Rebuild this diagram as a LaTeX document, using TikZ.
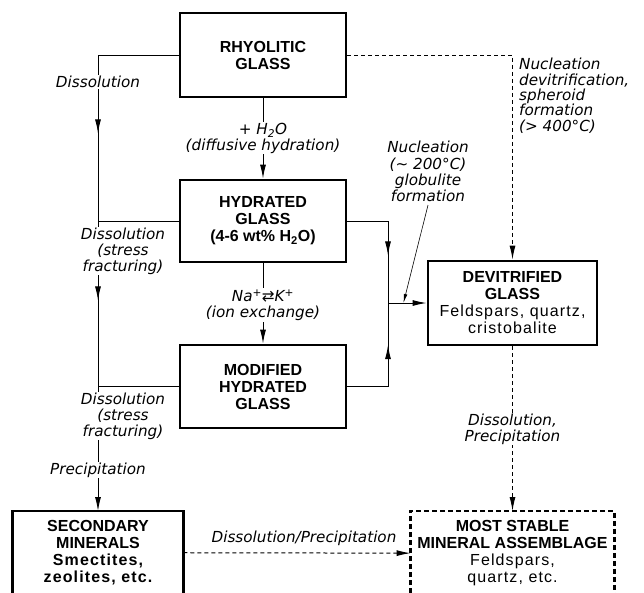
\documentclass[tikz,border=0pt]{standalone}
\usepackage{fontspec}
\setmainfont{Liberation Sans}
\newfontfamily\lblfont{DejaVu Sans}
\newfontfamily\minfont[LetterSpace=7]{Liberation Sans}
\usetikzlibrary{arrows.meta,decorations.markings,calc}

\tikzset{
  box/.style={draw, line width=2.8pt, align=center,
    font=\fontsize{16}{17}\selectfont\bfseries,
    minimum width=166pt, inner sep=2pt},
  lbl/.style={font=\fontsize{15.2}{16}\selectfont\lblfont\itshape,
    align=center, inner sep=1pt},
  conn/.style={line width=1pt},
  tip/.style={-{Latex[length=14pt,width=6pt]}},
  smalltip/.style={line width=0.6pt, -{Latex[length=9pt,width=3.5pt]}},
  dashline/.style={line width=1pt, dash pattern=on 4pt off 3pt},
  midtip/.style={postaction={decorate, decoration={markings,
    mark=at position #1 with {\arrow{Latex[length=14pt,width=6pt]}}}}},
}

\begin{document}
\begin{tikzpicture}[x=1pt,y=-1pt]
\useasboundingbox (0,0) rectangle (644,592);
\clip (0,0) rectangle (644,592);

% glass stages
\node[box, minimum height=84pt] (rg) at (263,55) {RHYOLITIC\\GLASS};
\node[box, minimum height=82pt] (hg) at (263,221)
  {HYDRATED\\GLASS\\(4-6 wt\% H\textsubscript{2}O)};
\node[box, minimum height=83pt] (mg) at (263,386.5)
  {MODIFIED\\HYDRATED\\GLASS};
\node[box, minimum width=169pt, minimum height=84pt] (dg) at (512.5,303)
  {DEVITRIFIED\\GLASS\\\minfont\mdseries Feldspars, quartz,\\\minfont\mdseries cristobalite};

% end products (boxes run off the lower edge)
\node[box, draw=none, anchor=north, minimum width=168pt, inner ysep=8pt] (sm) at (98,511)
  {SECONDARY\\MINERALS\\\minfont\bfseries Smectites,\\\minfont\bfseries zeolites, etc.};
\draw[line width=2.8pt] ([yshift=-30pt]sm.south west) rectangle (sm.north east);
\node[box, draw=none, anchor=north, minimum width=201pt, inner ysep=8pt, inner xsep=1pt] (ms) at (512.5,511)
  {MOST STABLE\\MINERAL ASSEMBLAGE\\\minfont\mdseries Feldspars,\\\minfont\mdseries quartz, etc.};
\draw[line width=2.8pt, dash pattern=on 5pt off 3pt]
  ([yshift=-30pt]ms.south west) rectangle (ms.north east);

% dissolution path on the left
\draw[conn, tip, midtip=159pt, midtip=326pt] (rg.west) -| (sm.north);
\draw[conn] (hg.west) -- (hg.west -| sm.north);
\draw[conn] (mg.west) -- (mg.west -| sm.north);
\node[lbl, fill=white] (l1) at (98,82) {Dissolution};
\node[lbl, fill=white] (l2) at (123,251) {Dissolution\\(stress\\fracturing)};
\node[lbl, fill=white] (l3) at (123,416) {Dissolution\\(stress\\fracturing)};
\node[lbl, fill=white] (l4) at (98,470) {Precipitation};

% hydration sequence
\draw[conn, tip] (rg) -- (hg);
\draw[conn, tip] (hg) -- (mg);
\node[lbl, fill=white] (l5) at (263,138) {+ H\textsubscript{2}O\\(diffusive hydration)};
\node[lbl, fill=white] (l6) at (263,305) {Na\textsuperscript{+}⇄K\textsuperscript{+}\\(ion exchange)};

% low temperature nucleation
\coordinate (jn) at (388,303);
\draw[conn, midtip=75pt] (hg.east) -| (jn);
\draw[conn, midtip=82pt] (mg.east) -| (jn);
\draw[conn, tip] (jn) -- (dg.west);
\node[lbl, font=\fontsize{15.2}{16.3}\selectfont\lblfont\itshape] (l7) at (428,171.5)
  {Nucleation\\(\textasciitilde\ 200°C)\\globulite\\formation};
\draw[smalltip] ([yshift=-2pt]l7.south) -- ($(jn)!0.4!(dg.west)$);

% high temperature devitrification
\draw[dashline, tip] (rg.east) -| (dg.north);
\node[lbl, font=\fontsize{15.2}{15.4}\selectfont\lblfont\itshape, align=left,
  anchor=north west, inner sep=0pt] (l8) at (519,58)
  {Nucleation\\devitrification,\\spheroid\\formation\\(> 400°C)};

% towards the stable assemblage
\draw[dashline, tip] (dg) -- (ms);
\node[lbl, fill=white] (l9) at (512.5,429) {Dissolution,\\Precipitation};
\draw[dashline, tip] (sm.east) -- (ms.west);
\node[lbl] (l10) at (304,538) {Dissolution/Precipitation};
\end{tikzpicture}
\end{document}
